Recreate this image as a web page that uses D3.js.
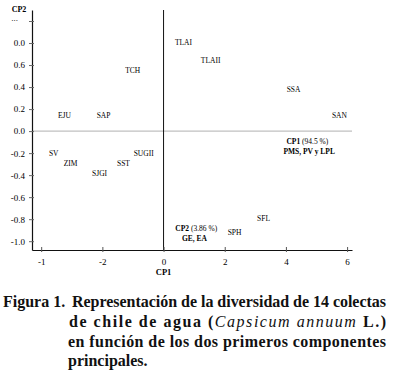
<!DOCTYPE html>
<html>
<head>
<meta charset="utf-8">
<script src="https://cdnjs.cloudflare.com/ajax/libs/d3/7.8.5/d3.min.js"></script>
<style>
    html, body { margin: 0; padding: 0; background: #fff; }
    svg, svg text { font-family: "Liberation Serif", "Times New Roman", Times, serif; }
</style>
</head>
<body>
<div id="chart"></div>
<script>
// collections (labels) and their scores on the first two principal components
var names = ['TLAI', 'TLAII', 'SSA', 'SAN', 'TCH', 'EJU', 'SAP', 'SV', 'ZIM', 'SST', 'SJGI', 'SUGII', 'SFL', 'SPH'];
var cp1 = [0.65, 1.54, 4.25, 5.75, -1.01, -3.24, -1.96, -3.59, -3.04, -1.31, -2.09, -0.65, 3.27, 2.32];
var cp2 = [0.81, 0.64, 0.38, 0.14, 0.55, 0.14, 0.14, -0.20, -0.29, -0.29, -0.38, -0.20, -0.79, -0.92];

// tick values and the labels printed in the figure (as they appear)
var xTicks = [-4, -2, 0, 2, 4, 6];
var xTickLabels = ['-1', '-2', '0', '2', '4', '6'];
var yTicks = [1.0, 0.8, 0.6, 0.4, 0.2, 0.0, -0.2, -0.4, -0.6, -0.8, -1.0];
var yTickLabels = ['...', '0.0', '0.6', '0.4', '0.2', '0.0', '-0.2', '-0.4', '-0.6', '-0.8', '-1.0'];

var caption = [
    'Representación de la diversidad de 14 colectas',
    'de chile de agua (',
    'en función de los dos primeros componentes',
    'principales.'
];

(function () {
    var width = 393, height = 374;
    var serif = '"Liberation Serif", "Times New Roman", Times, serif';

    var svg = d3.select('#chart').append('svg')
        .attr('width', width)
        .attr('height', height)
        .style('display', 'block');

    svg.append('rect').attr('width', width).attr('height', height).attr('fill', '#fff');

    var x = d3.scaleLinear().domain([-4.3, 6.16]).range([32, 352]);
    var y = d3.scaleLinear().domain([-1.08, 1.1]).range([250, 10]);

    // zero lines
    svg.append('line')
        .attr('x1', x(-4.3)).attr('x2', x(6.16))
        .attr('y1', y(0)).attr('y2', y(0))
        .attr('stroke', '#b0b0b0').attr('stroke-width', 1);

    svg.append('line')
        .attr('x1', x(0)).attr('x2', x(0))
        .attr('y1', y(1.1)).attr('y2', y(-1.08))
        .attr('stroke', '#111').attr('stroke-width', 1);

    // y axis
    var yAxis = svg.append('g')
        .attr('transform', 'translate(' + x(-4.3) + ',0)')
        .call(d3.axisLeft(y)
            .tickValues(yTicks)
            .tickSizeInner(3)
            .tickSizeOuter(0)
            .tickPadding(4)
            .tickFormat(function (d, i) { return yTickLabels[i]; }));

    yAxis.attr('font-family', serif);
    yAxis.select('.domain').attr('stroke', '#111').attr('stroke-width', 1.2);
    yAxis.selectAll('.tick line').attr('stroke', '#666').attr('x2', 2).attr('x1', -3);
    yAxis.selectAll('.tick text')
        .attr('fill', '#000')
        .style('font-size', '9px')
        .attr('dx', function (d, i) { return i === 0 ? -7 : 0; })
        .attr('dy', function (d, i) { return i === 0 ? '-0.1em' : '0.32em'; });

    // x axis
    var xAxis = svg.append('g')
        .attr('transform', 'translate(0,' + y(-1.08) + ')')
        .call(d3.axisBottom(x)
            .tickValues(xTicks)
            .tickSizeInner(-3)
            .tickSizeOuter(0)
            .tickPadding(9)
            .tickFormat(function (d, i) { return xTickLabels[i]; }));

    xAxis.attr('font-family', serif);
    xAxis.select('.domain').attr('stroke', '#111').attr('stroke-width', 1.2);
    xAxis.selectAll('.tick line').attr('stroke', '#555').attr('y1', 2);
    xAxis.selectAll('.tick text').attr('fill', '#000').style('font-size', '9px');

    // axis titles
    svg.append('text')
        .attr('x', 19).attr('y', 12)
        .attr('text-anchor', 'middle')
        .style('font-size', '8px').style('font-weight', 'bold')
        .attr('fill', '#000')
        .text('CP2');

    svg.append('text')
        .attr('x', x(0)).attr('y', 275)
        .attr('text-anchor', 'middle')
        .style('font-size', '8.5px').style('font-weight', 'bold')
        .attr('fill', '#000')
        .text('CP1');

    // collection labels
    svg.append('g')
        .selectAll('text')
        .data(names)
        .join('text')
        .attr('x', function (d, i) { return x(cp1[i]); })
        .attr('y', function (d, i) { return y(cp2[i]); })
        .attr('dy', '0.35em')
        .attr('text-anchor', 'middle')
        .style('font-size', '7.5px')
        .attr('fill', '#000')
        .text(function (d) { return d; });

    // component annotations
    var a1 = svg.append('text')
        .attr('x', x(4.7)).attr('y', y(-0.12))
        .attr('text-anchor', 'middle')
        .style('font-size', '7.5px').attr('fill', '#000');
    a1.append('tspan').style('font-weight', 'bold').text('CP1');
    a1.append('tspan').text(' (94.5 %)');

    svg.append('text')
        .attr('x', x(4.76)).attr('y', y(-0.21))
        .attr('text-anchor', 'middle')
        .style('font-size', '7.5px').style('font-weight', 'bold').attr('fill', '#000')
        .text('PMS, PV y LPL');

    var a2 = svg.append('text')
        .attr('x', x(1.07)).attr('y', y(-0.91))
        .attr('text-anchor', 'middle')
        .style('font-size', '7.5px').attr('fill', '#000');
    a2.append('tspan').style('font-weight', 'bold').text('CP2');
    a2.append('tspan').text(' (3.86 %)');

    svg.append('text')
        .attr('x', x(1.01)).attr('y', y(-1.0))
        .attr('text-anchor', 'middle')
        .style('font-size', '7.5px').style('font-weight', 'bold').attr('fill', '#000')
        .text('GE, EA');

    // caption
    var cap = svg.append('g')
        .style('font-size', '16px')
        .style('font-weight', 'bold')
        .attr('fill', '#111');

    cap.append('text').attr('x', 3).attr('y', 307).text('Figura 1.');

    cap.append('text').attr('x', 72).attr('y', 307)
        .attr('textLength', 314).attr('lengthAdjust', 'spacing')
        .text(caption[0]);

    var l2 = cap.append('text').attr('x', 69).attr('y', 327)
        .attr('textLength', 317).attr('lengthAdjust', 'spacing');
    l2.append('tspan').text(caption[1]);
    l2.append('tspan').style('font-style', 'italic').style('font-weight', 'normal').text('Capsicum annuum');
    l2.append('tspan').text(' L.)');

    cap.append('text').attr('x', 68).attr('y', 347)
        .attr('textLength', 318).attr('lengthAdjust', 'spacing')
        .text(caption[2]);

    cap.append('text').attr('x', 68).attr('y', 366)
        .text(caption[3]);
})();
</script>
</body>
</html>
